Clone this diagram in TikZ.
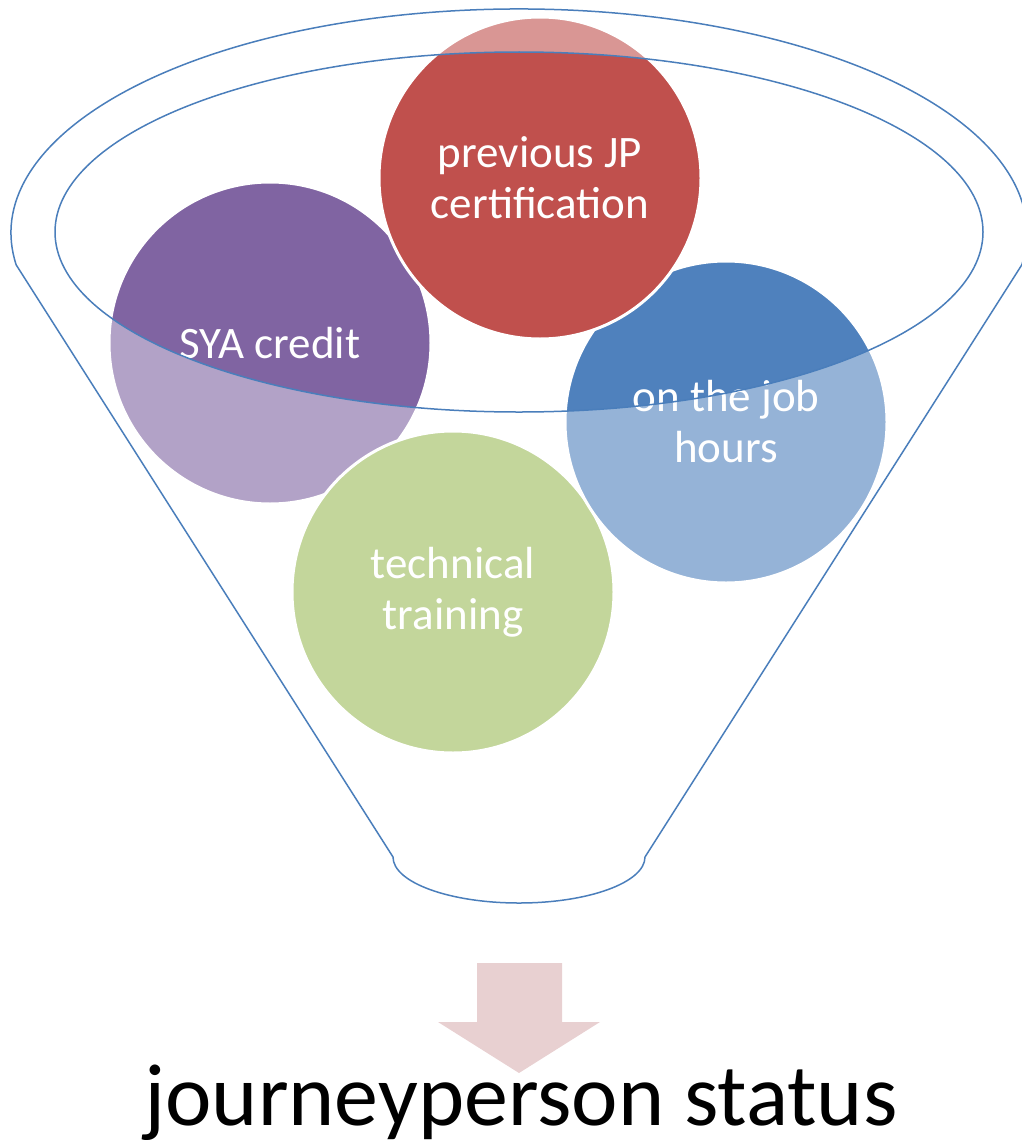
\documentclass[tikz,border=0pt]{standalone}
\usepackage{fontspec}
\setmainfont{Carlito}
\definecolor{redD}{HTML}{C0504D}
\definecolor{redL}{HTML}{D99694}
\definecolor{purpleD}{HTML}{8064A2}
\definecolor{purpleL}{HTML}{B2A2C7}
\definecolor{blueD}{HTML}{4F81BD}
\definecolor{blueL}{HTML}{95B3D7}
\definecolor{greenL}{HTML}{C3D69B}
\definecolor{funnelblue}{HTML}{4A7EBB}
\definecolor{arrowpink}{HTML}{E8D0D1}
\tikzset{
  bubble/.style={
    circle, minimum size=322pt, inner sep=0pt, draw=white, line width=3pt,
    text=white, align=center, font=\fontsize{45}{51}\selectfont
  },
  funnel/.style={
    draw=funnelblue, line width=1.5pt
  }
}

\begin{document}
\begin{tikzpicture}[x=1pt,y=1pt]
   \useasboundingbox (0,0) rectangle (1021,-1140);

   \node[bubble, fill=purpleL] (sya) at (270,-343) {SYA credit};
   \node[bubble, fill=greenL] (tech) at (453,-592) {technical\\training};
   \node[bubble, fill=blueL] (job) at (726,-422) {on the job\\hours};
   \node[bubble, fill=redL] (prev) at (540,-178) {previous JP\\certification};

   % inside the mouth of the funnel
   \begin{scope}
      \clip (519,-232) ellipse [x radius=464, y radius=180];
      \node[bubble, fill=purpleD] (syain) at (sya) {SYA credit};
      \node[bubble, fill=blueD] (jobin) at (job) {on the job\\hours};
      \node[bubble, fill=redD] (previn) at (prev) {previous JP\\certification};
   \end{scope}

   \draw[funnel] (16.2,-264.9) arc [start angle=188.2, end angle=-8.2, x radius=508, y radius=224]
      -- (645,-857) arc [start angle=0, end angle=-180, x radius=126, y radius=46] -- cycle;
   \draw[funnel] (519,-232) ellipse [x radius=464, y radius=180];

   \fill[arrowpink] (477,-963) -- (562,-963) -- (562,-1022) -- (600,-1022)
      -- (519,-1073) -- (438,-1022) -- (477,-1022) -- cycle;
   \node[anchor=base, font=\fontsize{88}{100}\selectfont] (status) at (521,-1125) {journeyperson status};
\end{tikzpicture}
\end{document}
